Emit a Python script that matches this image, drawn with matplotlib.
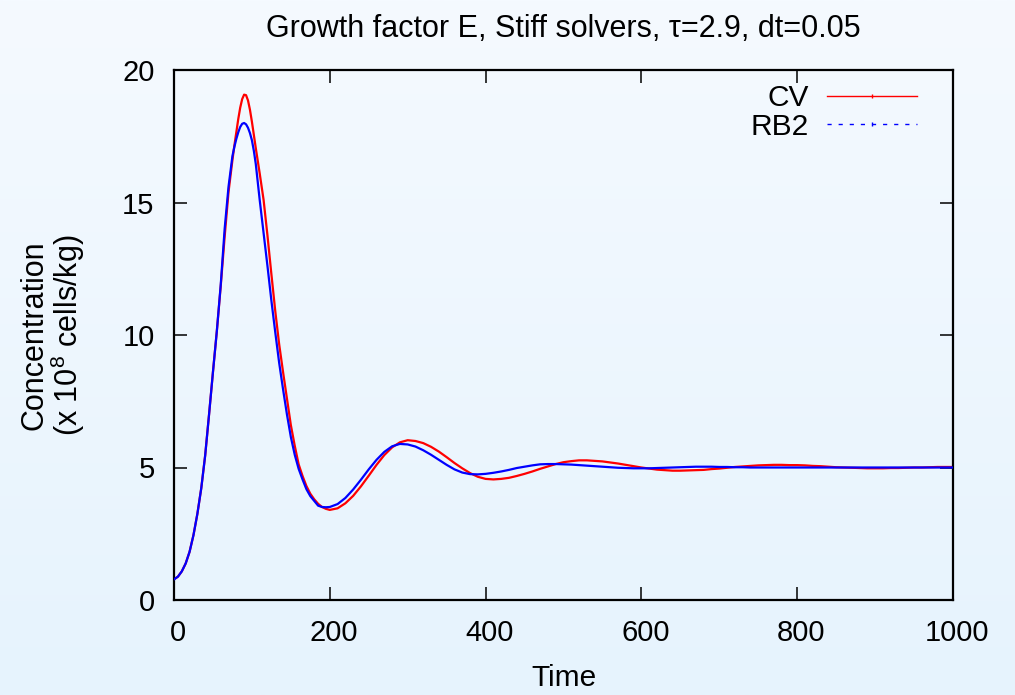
import numpy as np
import matplotlib
matplotlib.use("Agg")
import matplotlib.pyplot as plt
from matplotlib.lines import Line2D
from matplotlib.transforms import ScaledTranslation

plt.rcParams['font.family'] = ['Liberation Sans', 'DejaVu Sans']
plt.rcParams['mathtext.fontset'] = 'custom'
plt.rcParams['mathtext.rm'] = 'Liberation Sans'
plt.rcParams['mathtext.it'] = 'Liberation Sans'

# ---- data ----
time = np.concatenate([np.arange(0, 75, 5), np.arange(75, 105, 2.5),
                       np.arange(105, 201, 5), np.arange(210, 1001, 10)])

cv = [0.78, 0.88, 1.08, 1.38, 1.82, 2.45, 3.25, 4.22, 5.45, 7.00, 8.60,
      10.15, 11.85, 13.70, 15.40,
      16.60, 17.15, 17.65, 18.15, 18.58, 18.90, 19.07, 19.05, 18.85, 18.50,
      18.05, 17.55,
      17.05, 16.10, 15.10, 13.75, 12.30, 10.90, 9.65, 8.60, 7.60, 6.60,
      5.82, 5.12, 4.68, 4.30, 4.01, 3.80, 3.63, 3.51, 3.44, 3.40,
      3.46, 3.65, 3.93, 4.29, 4.69, 5.10, 5.47, 5.76, 5.95, 6.03,
      6.00, 5.92, 5.78, 5.60, 5.39, 5.17, 4.97, 4.79, 4.65, 4.57,
      4.55, 4.57, 4.61, 4.68, 4.76, 4.85, 4.95, 5.04, 5.13, 5.20,
      5.24, 5.27, 5.27, 5.25, 5.23, 5.19, 5.15, 5.10, 5.05, 5.00,
      4.96, 4.92, 4.90, 4.88, 4.88, 4.89, 4.90, 4.91, 4.94, 4.96,
      4.99, 5.02, 5.04, 5.06, 5.08, 5.09, 5.10, 5.10, 5.09, 5.09,
      5.08, 5.06, 5.05, 5.03, 5.01, 5.00, 4.99, 4.98, 4.97, 4.97,
      4.97, 4.98, 4.98, 4.99, 5.00, 5.00, 5.01, 5.02, 5.02, 5.02]

rb2 = [0.78, 0.88, 1.08, 1.38, 1.82, 2.45, 3.25, 4.22, 5.45, 7.00, 8.60,
       10.15, 11.90, 14.00, 15.60,
       16.75, 17.10, 17.40, 17.65, 17.85, 17.97, 18.00, 17.95, 17.82, 17.62,
       17.35, 16.95,
       16.45, 15.10, 13.85, 12.60, 11.30, 10.10, 8.95, 7.95, 7.00, 6.15,
       5.48, 4.95, 4.55, 4.18, 3.92, 3.74, 3.56, 3.51, 3.50, 3.51,
       3.62, 3.85, 4.17, 4.54, 4.93, 5.29, 5.59, 5.80, 5.89, 5.87,
       5.79, 5.65, 5.48, 5.29, 5.10, 4.93, 4.81, 4.75, 4.74, 4.76,
       4.80, 4.85, 4.91, 4.98, 5.03, 5.08, 5.12, 5.13, 5.13, 5.12,
       5.11, 5.09, 5.07, 5.05, 5.03, 5.01, 4.99, 4.98, 4.97, 4.97,
       4.97, 4.98, 4.99, 5.00, 5.01, 5.02, 5.03, 5.03, 5.03, 5.02,
       5.02, 5.01, 5.01, 5.00, 5.00, 5.00, 5.00, 5.00, 5.00, 5.00,
       5.00, 5.00, 5.00, 5.00, 5.00, 5.00, 5.00, 5.00, 5.00, 5.00,
       5.00, 5.00, 5.00, 5.00, 5.00, 5.00, 5.00, 5.00, 5.00, 5.00]

series_labels = ["CV", "RB2"]
xticks = [0, 200, 400, 600, 800, 1000]
yticks = [0, 5, 10, 15, 20]
title = "Growth factor E, Stiff solvers, \u03c4=2.9, dt=0.05"

# ---- figure ----
W, H = 1015, 695
fig = plt.figure(figsize=(W / 100, H / 100), dpi=100)

# background vertical gradient
bg = fig.add_axes([0, 0, 1, 1], zorder=-1)
top_c = np.array([245, 250, 255]) / 255.0
bot_c = np.array([230, 243, 253]) / 255.0
g = np.linspace(0, 1, 256)[:, None]
grad = top_c[None, :] * (1 - g) + bot_c[None, :] * g
bg.imshow(grad[:, None, :], aspect='auto', extent=[0, 1, 0, 1], origin='upper')
bg.axis('off')

L, R, T, B = 174, 953, 70, 600
ax = fig.add_axes([L / W, 1 - B / H, (R - L) / W, (B - T) / H])
ax.set_facecolor('none')

n = min(len(time), len(cv), len(rb2))
ax.plot(time[:n], cv[:n], color='#ff0000', lw=1.6, zorder=2)
ax.plot(time[:n], rb2[:n], color='#0000ff', lw=1.6, zorder=3)

ax.set_xlim(0, 1000)
ax.set_ylim(0, 20)
ax.set_xticks(xticks)
ax.set_yticks(yticks)
ax.tick_params(direction='in', top=True, right=True, length=9.5, width=1.1,
               labelsize=21, colors='black')
ax.tick_params(axis='y', pad=14)
ax.tick_params(axis='x', pad=14)
for s in ax.spines.values():
    s.set_linewidth(1.6)
    s.set_color('black')
shift = ScaledTranslation(4 / 100, 0, fig.dpi_scale_trans)
for lab in ax.get_xticklabels():
    lab.set_transform(lab.get_transform() + shift)

fig.text((L + R) / 2 / W, 1 - 37 / H, title, ha='center', va='baseline', fontsize=22)
fig.text((L + R) / 2 / W, 1 - 678 / H, "Time", ha='center', va='center', fontsize=21.5)
fig.text(35 / W, 1 - 335 / H, "Concentration", rotation=90, ha='center', va='center', fontsize=22)
fig.text(68 / W, 1 - 335 / H, r"(x 10$^{8}$ cells/kg)", rotation=90, ha='center', va='center', fontsize=22)

handles = [Line2D([], [], color='#ff0000', lw=1.0, marker='|', ms=3, mew=1.0),
           Line2D([], [], color='#0000ff', lw=1.0, ls=(0, (3, 5)), marker='|', ms=3, mew=1.0)]
leg = ax.legend(handles, series_labels, loc='upper right',
                bbox_to_anchor=((917 - L) / (R - L), 1 - (84 - T) / (B - T)),
                frameon=False, markerfirst=False, fontsize=21.5, numpoints=1,
                handlelength=3.0, handletextpad=0.62, labelspacing=0.02,
                borderpad=0, borderaxespad=0)

fig.savefig("out.png", dpi=100)
